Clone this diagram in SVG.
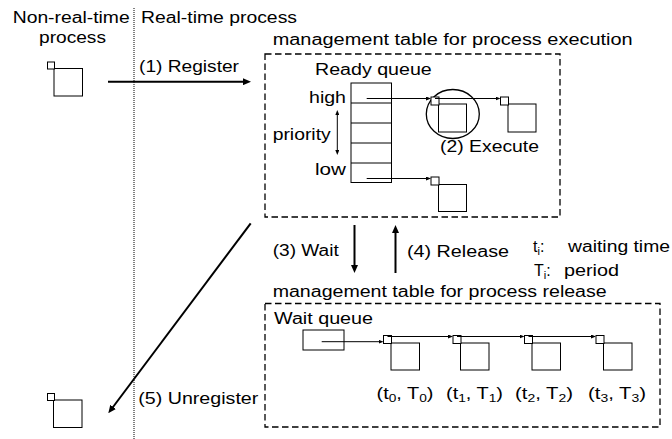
<svg xmlns="http://www.w3.org/2000/svg" width="672" height="439" viewBox="0 0 672 439">
<style>
.t{font-family:"Liberation Sans",Arial,sans-serif;font-size:16px;fill:#000}
.s{font-size:11px}
.dash{fill:none;stroke:#000;stroke-width:1.3;stroke-dasharray:6.5 3.5}
.box{fill:#fff;stroke:#000;stroke-width:1}
.thick{stroke:#000;stroke-width:2;fill:none}
.thin{stroke:#000;stroke-width:1;fill:none}
</style>
<defs>
<marker id="big" markerUnits="userSpaceOnUse" markerWidth="8" markerHeight="7" refX="2" refY="3.5" orient="auto"><path d="M0,0 L8,3.5 L0,7 z" fill="#000"/></marker>
<marker id="sm" markerUnits="userSpaceOnUse" markerWidth="5" markerHeight="4" refX="1" refY="2" orient="auto-start-reverse"><path d="M0,0 L5,2 L0,4 z" fill="#000"/></marker>
</defs>
<rect width="672" height="439" fill="#fff"/>

<g id="divider">
<line x1="134" y1="8" x2="134" y2="439" stroke="#000" stroke-width="1" stroke-dasharray="1 1"/>
<text class="t" x="12.7" y="22.7" textLength="117" lengthAdjust="spacingAndGlyphs">Non-real-time</text>
<text class="t" x="39" y="43" textLength="67" lengthAdjust="spacingAndGlyphs">process</text>
<text class="t" x="141" y="22.7" textLength="156" lengthAdjust="spacingAndGlyphs">Real-time process</text>
</g>

<g id="proc-nonrt-top">
<rect class="box" x="54" y="68.5" width="28.5" height="27.5"/>
<rect class="box" x="47.5" y="62" width="7" height="7"/>
</g>

<g id="proc-nonrt-bottom">
<rect class="box" x="53.5" y="400" width="28.5" height="27.5"/>
<rect class="box" x="47.5" y="393.5" width="7" height="7"/>
</g>

<g id="exec-table">
<rect class="dash" x="265" y="54" width="295" height="163"/>
<text class="t" x="272.7" y="45" textLength="360" lengthAdjust="spacingAndGlyphs">management table for process execution</text>
</g>

<g id="ready-queue">
<text class="t" x="315" y="75" textLength="116.7" lengthAdjust="spacingAndGlyphs">Ready queue</text>
<rect class="box" x="351" y="83" width="40.5" height="99.5"/>
<line class="thin" x1="351" y1="103" x2="391.5" y2="103"/>
<line class="thin" x1="351" y1="123" x2="391.5" y2="123"/>
<line class="thin" x1="351" y1="143" x2="391.5" y2="143"/>
<line class="thin" x1="351" y1="163" x2="391.5" y2="163"/>
<text class="t" x="309" y="102.7" textLength="37" lengthAdjust="spacingAndGlyphs">high</text>
<text class="t" x="272.7" y="140" textLength="58" lengthAdjust="spacingAndGlyphs">priority</text>
<text class="t" x="315" y="175" textLength="31" lengthAdjust="spacingAndGlyphs">low</text>
</g>

<g id="proc-exec">
<ellipse cx="452.8" cy="114" rx="26.5" ry="24.5" fill="none" stroke="#000" stroke-width="1.3"/>
<rect class="box" x="438.5" y="104" width="28" height="28"/>
<rect class="box" x="431" y="97" width="8" height="8"/>
<text class="t" x="440" y="152" textLength="99" lengthAdjust="spacingAndGlyphs">(2) Execute</text>
</g>

<g id="proc-next">
<rect class="box" x="508" y="104" width="28" height="28"/>
<rect class="box" x="500.5" y="97" width="8" height="8"/>
</g>

<g id="proc-low">
<rect class="box" x="438.5" y="184.5" width="28" height="27"/>
<rect class="box" x="431" y="177" width="8" height="8"/>
</g>

<g id="release-table">
<rect class="dash" x="265" y="303.5" width="395" height="123.5"/>
<text class="t" x="272.7" y="297" textLength="334" lengthAdjust="spacingAndGlyphs">management table for process release</text>
<text class="t" x="274" y="323.5" textLength="99" lengthAdjust="spacingAndGlyphs">Wait queue</text>
<rect class="box" x="303" y="330" width="41" height="20"/>
</g>

<g id="proc-w0">
<rect class="box" x="391" y="343" width="28.5" height="27"/>
<rect class="box" x="383.5" y="335.5" width="8" height="8"/>
<text class="t" x="376.5" y="399" textLength="57" lengthAdjust="spacingAndGlyphs">(t<tspan class="s" dy="3">0</tspan><tspan dy="-3">,  T</tspan><tspan class="s" dy="3">0</tspan><tspan dy="-3">)</tspan></text>
</g>
<g id="proc-w1">
<rect class="box" x="460.5" y="343" width="28.5" height="27"/>
<rect class="box" x="453" y="335.5" width="8" height="8"/>
<text class="t" x="446" y="399" textLength="57" lengthAdjust="spacingAndGlyphs">(t<tspan class="s" dy="3">1</tspan><tspan dy="-3">,  T</tspan><tspan class="s" dy="3">1</tspan><tspan dy="-3">)</tspan></text>
</g>
<g id="proc-w2">
<rect class="box" x="532" y="343" width="28.5" height="27"/>
<rect class="box" x="524.5" y="335.5" width="8" height="8"/>
<text class="t" x="515" y="399" textLength="58" lengthAdjust="spacingAndGlyphs">(t<tspan class="s" dy="3">2</tspan><tspan dy="-3">,  T</tspan><tspan class="s" dy="3">2</tspan><tspan dy="-3">)</tspan></text>
</g>
<g id="proc-w3">
<rect class="box" x="603.5" y="343" width="28.5" height="27"/>
<rect class="box" x="596" y="335.5" width="8" height="8"/>
<text class="t" x="588" y="399" textLength="58" lengthAdjust="spacingAndGlyphs">(t<tspan class="s" dy="3">3</tspan><tspan dy="-3">,  T</tspan><tspan class="s" dy="3">3</tspan><tspan dy="-3">)</tspan></text>
</g>

<g id="legend">
<text class="t" x="533" y="251.7">t<tspan class="s" dy="3">i</tspan><tspan dy="-3">:</tspan></text>
<text class="t" x="568" y="251.7" textLength="102" lengthAdjust="spacingAndGlyphs">waiting time</text>
<text class="t" x="534" y="276">T<tspan class="s" dy="3">i</tspan><tspan dy="-3">:</tspan></text>
<text class="t" x="564" y="276" textLength="55" lengthAdjust="spacingAndGlyphs">period</text>
</g>

<g id="connectors">
<line class="thick" x1="108" y1="81.7" x2="245" y2="81.7" marker-end="url(#big)"/>
<text class="t" x="139" y="71.7" textLength="100" lengthAdjust="spacingAndGlyphs">(1) Register</text>
<line class="thick" x1="250.7" y1="223.3" x2="111.9" y2="408.5" marker-end="url(#big)"/>
<text class="t" x="138.3" y="404" textLength="120" lengthAdjust="spacingAndGlyphs">(5) Unregister</text>
<line class="thick" x1="354.5" y1="225" x2="354.5" y2="267" marker-end="url(#big)"/>
<text class="t" x="272.7" y="256" textLength="66" lengthAdjust="spacingAndGlyphs">(3) Wait</text>
<line class="thick" x1="395.5" y1="273" x2="395.5" y2="231" marker-end="url(#big)"/>
<text class="t" x="407" y="256.7" textLength="102" lengthAdjust="spacingAndGlyphs">(4) Release</text>
<line class="thin" x1="337.3" y1="114" x2="337.3" y2="151" marker-start="url(#sm)" marker-end="url(#sm)"/>
<line class="thin" x1="366.7" y1="98.5" x2="427" y2="98.5" marker-end="url(#sm)"/>
<line class="thin" x1="435" y1="98.5" x2="496.5" y2="98.5" marker-end="url(#sm)"/>
<line class="thin" x1="366.7" y1="178.5" x2="427" y2="178.5" marker-end="url(#sm)"/>
<line class="thin" x1="321.7" y1="341.7" x2="379.5" y2="341.7" marker-end="url(#sm)"/>
<line class="thin" x1="387.5" y1="336.5" x2="449" y2="336.5" marker-end="url(#sm)"/>
<line class="thin" x1="457" y1="336.5" x2="520.5" y2="336.5" marker-end="url(#sm)"/>
<line class="thin" x1="528.5" y1="336.5" x2="592" y2="336.5" marker-end="url(#sm)"/>
</g>
</svg>
